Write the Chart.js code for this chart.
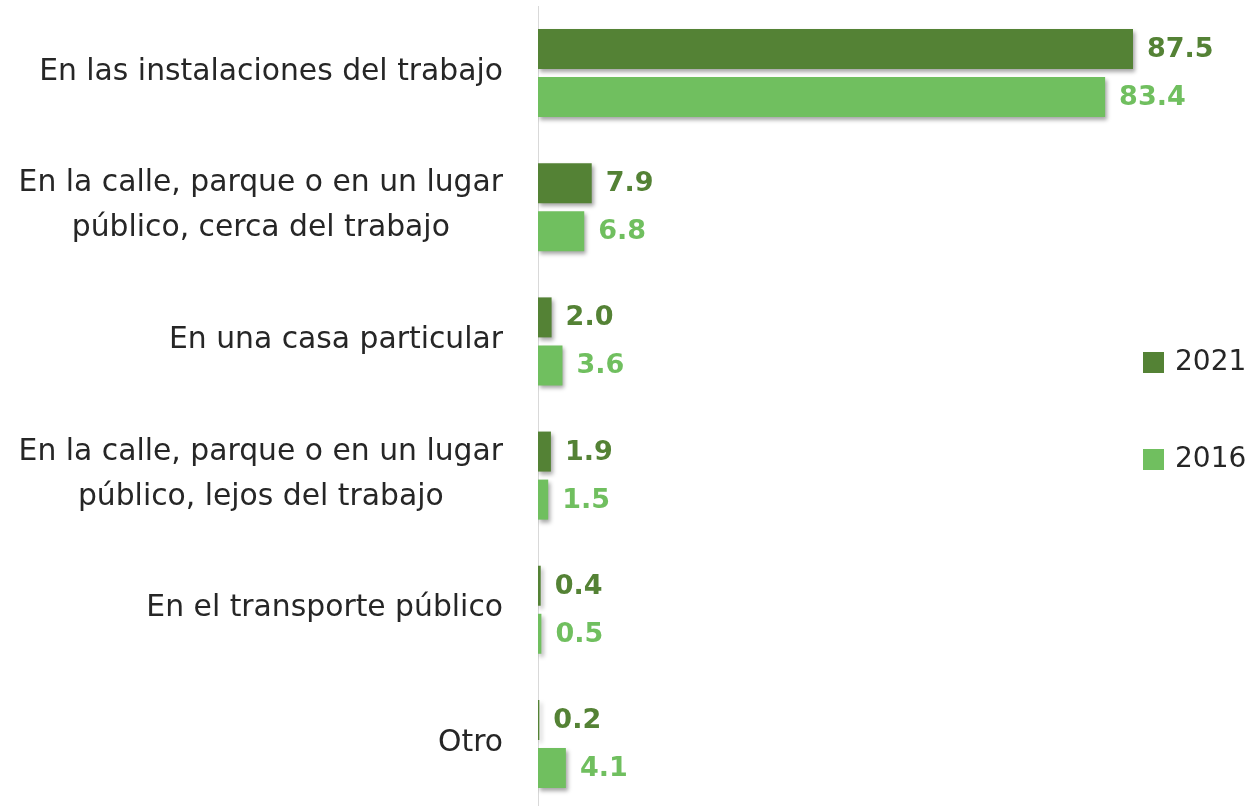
<!DOCTYPE html>
<html lang="es">
<head>
    <meta charset="UTF-8">
    <title>Lugar</title>
    <script src="https://cdn.jsdelivr.net/npm/chart.js"></script>
    <style>
        html, body { margin: 0; padding: 0; background: #fff; overflow: hidden; }
        #wrap { width: 1255px; height: 811px; }
    </style>
</head>
<body>
    <div id="wrap">
        <canvas id="myChart" width="1255" height="811"></canvas>
    </div>
    <script>
        // datos
        const categorias = [
            ["En las instalaciones del trabajo"],
            ["En la calle, parque o en un lugar", "público, cerca del trabajo"],
            ["En una casa particular"],
            ["En la calle, parque o en un lugar", "público, lejos del trabajo"],
            ["En el transporte público"],
            ["Otro"]
        ];
        const serieNombres = ["2021", "2016"];
        const valores2021 = [87.5, 7.9, 2.0, 1.9, 0.4, 0.2];
        const valores2016 = [83.4, 6.8, 3.6, 1.5, 0.5, 4.1];

        const verdeOscuro = '#548235';
        const verdeClaro = '#70bf5f';
        const fuente = '"DejaVu Sans"';

        // sombra de las barras
        const sombra = {
            id: 'sombra',
            beforeDatasetsDraw(chart) {
                const ctx = chart.ctx;
                ctx.save();
                ctx.shadowColor = 'rgba(0,0,0,0.35)';
                ctx.shadowBlur = 4;
                ctx.shadowOffsetX = 2;
                ctx.shadowOffsetY = 3;
            },
            afterDatasetsDraw(chart) {
                chart.ctx.restore();
            }
        };

        // etiquetas de valores
        const valoresTexto = {
            id: 'valoresTexto',
            afterDatasetsDraw(chart) {
                const ctx = chart.ctx;
                ctx.save();
                ctx.font = 'bold 27px ' + fuente;
                ctx.textAlign = 'left';
                ctx.textBaseline = 'middle';
                chart.data.datasets.forEach((ds, i) => {
                    const meta = chart.getDatasetMeta(i);
                    ctx.fillStyle = ds.backgroundColor;
                    meta.data.forEach((bar, j) => {
                        ctx.fillText(ds.data[j].toFixed(1), bar.x + 14, bar.y + 1);
                    });
                });
                ctx.restore();
            }
        };

        // categorias y leyenda
        const textos = {
            id: 'textos',
            afterDraw(chart) {
                const ctx = chart.ctx;
                const y = chart.scales.y;
                ctx.save();
                ctx.font = '29.8px ' + fuente;
                ctx.fillStyle = '#262626';
                ctx.textAlign = 'center';
                ctx.textBaseline = 'middle';
                categorias.forEach((lineas, i) => {
                    const yc = y.getPixelForValue(i) - 1;
                    const ancho = Math.max(...lineas.map(l => ctx.measureText(l).width));
                    const cx = 503 - ancho / 2;
                    const y0 = yc - (lineas.length - 1) * 45 / 2;
                    lineas.forEach((l, k) => ctx.fillText(l, cx, y0 + k * 45));
                });

                // leyenda
                const colores = [verdeOscuro, verdeClaro];
                const ys = [362, 459];
                ctx.font = '28px ' + fuente;
                ctx.textAlign = 'left';
                serieNombres.forEach((n, i) => {
                    ctx.fillStyle = colores[i];
                    ctx.fillRect(1143, ys[i] - 10, 21, 21);
                    ctx.fillStyle = '#262626';
                    ctx.fillText(n, 1175, ys[i] + 1);
                });
                ctx.restore();
            }
        };

        const ctx = document.getElementById('myChart').getContext('2d');
        const myChart = new Chart(ctx, {
            type: 'bar',
            data: {
                labels: categorias,
                datasets: [
                    {
                        label: serieNombres[0],
                        data: valores2021,
                        backgroundColor: verdeOscuro,
                        categoryPercentage: 0.716,
                        barPercentage: 0.833
                    },
                    {
                        label: serieNombres[1],
                        data: valores2016,
                        backgroundColor: verdeClaro,
                        categoryPercentage: 0.716,
                        barPercentage: 0.833
                    }
                ]
            },
            options: {
                indexAxis: 'y',
                responsive: false,
                animation: false,
                layout: { padding: { top: 6, right: 37, bottom: 0, left: 0 } },
                plugins: {
                    legend: { display: false },
                    tooltip: { enabled: false }
                },
                scales: {
                    x: {
                        display: false,
                        min: 0,
                        max: 100
                    },
                    y: {
                        ticks: { display: false },
                        grid: { display: false },
                        border: { display: true, color: '#d9d9d9', width: 1 },
                        afterFit(scale) { scale.width = 538; }
                    }
                }
            },
            plugins: [sombra, valoresTexto, textos]
        });
    </script>
</body>
</html>
